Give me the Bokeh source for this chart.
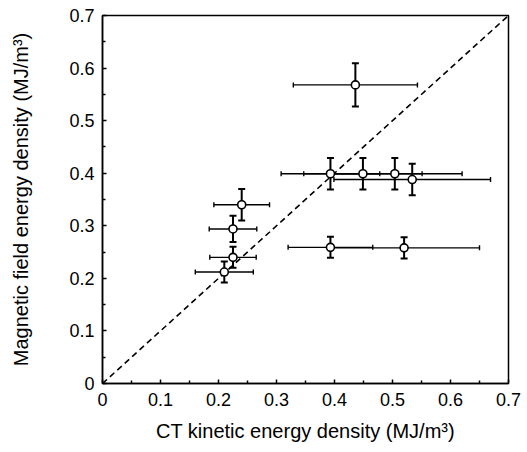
from bokeh.plotting import figure
from bokeh.models import (Range1d, FixedTicker, CustomJSTickFormatter,
                          ColumnDataSource, Whisker, TeeHead)
from bokeh.embed import file_html
from bokeh.resources import INLINE

# data
ct_kinetic = [0.436, 0.240, 0.225, 0.225, 0.210, 0.393, 0.449, 0.504, 0.534, 0.393, 0.520]
mag_field = [0.568, 0.340, 0.294, 0.240, 0.212, 0.399, 0.399, 0.399, 0.388, 0.259, 0.258]
ct_err = [0.107, 0.048, 0.041, 0.040, 0.050, 0.085, 0.102, 0.116, 0.135, 0.073, 0.130]
mag_err = [0.041, 0.030, 0.025, 0.020, 0.020, 0.030, 0.030, 0.030, 0.030, 0.020, 0.020]
diag = [0.0, 0.7]
major_ticks = [0.0, 0.1, 0.2, 0.3, 0.4, 0.5, 0.6, 0.7]
minor_ticks = [0.05, 0.15, 0.25, 0.35, 0.45, 0.55, 0.65]
x_label = "CT kinetic energy density (MJ/m\u00b3)"
y_label = "Magnetic field energy density (MJ/m\u00b3)"

src = ColumnDataSource(dict(
    x=ct_kinetic, y=mag_field,
    xl=[a - e for a, e in zip(ct_kinetic, ct_err)],
    xu=[a + e for a, e in zip(ct_kinetic, ct_err)],
    yl=[a - e for a, e in zip(mag_field, mag_err)],
    yu=[a + e for a, e in zip(mag_field, mag_err)],
))

p = figure(width=527, height=452, output_backend="svg", toolbar_location=None,
           x_range=Range1d(0, 0.7), y_range=Range1d(0, 0.7),
           min_border_left=102, min_border_top=15, min_border_right=19,
           min_border_bottom=69)
p.background_fill_color = "white"
p.border_fill_color = "white"
p.grid.visible = False
p.outline_line_color = "black"
p.outline_line_width = 1.5
p.outline_line_alpha = 1

FONT = "Liberation Sans"
for ax in (p.xaxis[0], p.yaxis[0]):
    ax.ticker = FixedTicker(ticks=major_ticks, minor_ticks=minor_ticks)
    ax.formatter = CustomJSTickFormatter(
        code="return Math.abs(tick) < 1e-9 ? '0' : tick.toFixed(1);")
    ax.axis_line_color = "black"
    ax.axis_line_width = 1.5
    ax.major_tick_in = 4
    ax.major_tick_out = 0
    ax.minor_tick_in = 3
    ax.minor_tick_out = 0
    ax.major_tick_line_width = 1.5
    ax.minor_tick_line_width = 1.5
    ax.major_label_text_font = FONT
    ax.major_label_text_font_size = "18px"
    ax.major_label_text_color = "black"
    ax.axis_label_text_font = FONT
    ax.axis_label_text_font_size = "20px"
    ax.axis_label_text_font_style = "normal"
    ax.axis_label_text_color = "black"

p.xaxis.axis_label = x_label
p.yaxis.axis_label = y_label
p.xaxis.major_label_standoff = 9
p.xaxis.axis_label_standoff = 11
p.yaxis.major_label_standoff = 8
p.yaxis.axis_label_standoff = 34

# identity line
p.line(diag, diag, line_color="black", line_width=1.6, line_dash="6 4")

# error bars
p.add_layout(Whisker(source=src, base="y", lower="xl", upper="xu", dimension="width",
                     line_color="black", line_width=1.4,
                     lower_head=TeeHead(size=5, line_width=1.4, line_color="black"),
                     upper_head=TeeHead(size=5, line_width=1.4, line_color="black")))
p.add_layout(Whisker(source=src, base="x", lower="yl", upper="yu", dimension="height",
                     line_color="black", line_width=2,
                     lower_head=TeeHead(size=7, line_width=2, line_color="black"),
                     upper_head=TeeHead(size=7, line_width=2, line_color="black")))

p.scatter("x", "y", source=src, size=8, marker="circle", fill_color="white",
          line_color="black", line_width=1.6)

open("out.html", "w").write(file_html(p, INLINE))
